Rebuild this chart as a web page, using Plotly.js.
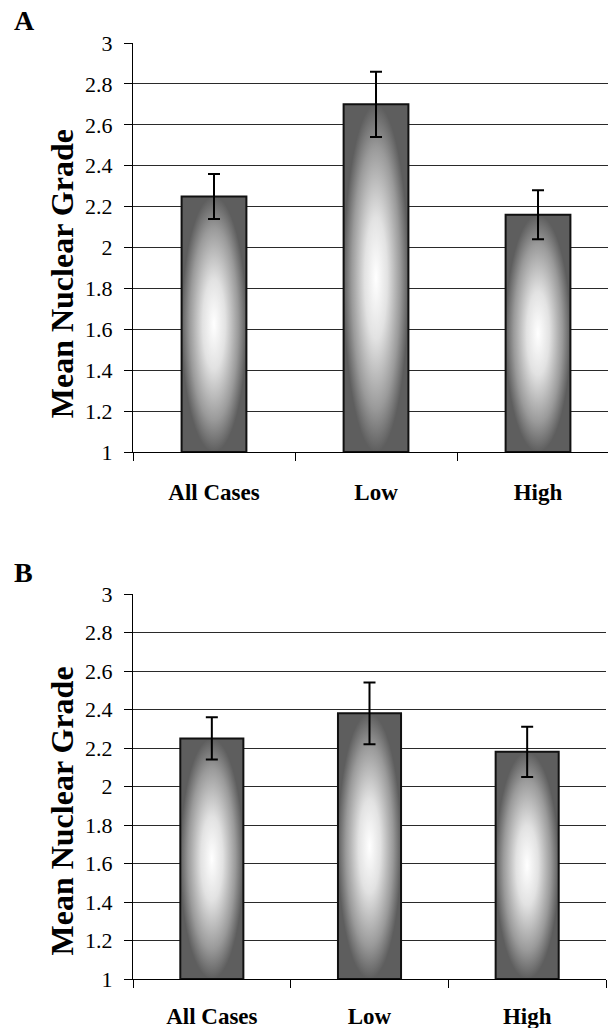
<!DOCTYPE html>
<html>
<head>
<meta charset="utf-8">
<script src="https://cdn.plot.ly/plotly-3.0.1.min.js"></script>
<style>
  html, body { margin: 0; padding: 0; background: #fff; }
  #chart { width: 608px; height: 1028px; }
</style>
</head>
<body>
<div id="chart"></div>
<script>
// ---- data ----
const categories = ['All Cases', 'Low', 'High'];
const meanA = [2.25, 2.70, 2.16];
const errA = [0.11, 0.16, 0.12];
const meanB = [2.25, 2.38, 2.18];
const errB = [0.11, 0.16, 0.13];
const yTickVals = [1, 1.2, 1.4, 1.6, 1.8, 2, 2.2, 2.4, 2.6, 2.8, 3];
const yTickLabels = ['1', '1.2', '1.4', '1.6', '1.8', '2', '2.2', '2.4', '2.6', '2.8', '3'];
const yTitle = 'Mean Nuclear Grade';
const panelLabels = ['A', 'B'];

// ---- style ----
const SERIF = '"Liberation Serif", "Times New Roman", Times, serif';
const yMin = 1, yMax = 3;
const barW = 0.4;
const gradScale = [[0, '#ffffff'], [0.35, '#e2e2e2'], [0.75, '#9a9a9a'], [1, '#5e5e5e']];
const catIdx = categories.map((c, i) => i);

function barTraces(means, errs, xa, ya) {
  const out = [];
  means.forEach((v, i) => {
    out.push({
      type: 'scatter', mode: 'lines', xaxis: xa, yaxis: ya,
      x: [i - barW / 2, i - barW / 2, i + barW / 2, i + barW / 2, i - barW / 2],
      y: [yMin, v, v, yMin, yMin],
      fill: 'toself',
      fillgradient: { type: 'radial', colorscale: gradScale },
      line: { color: '#111', width: 2 },
      hoverinfo: 'skip', showlegend: false
    });
  });
  out.push({
    type: 'scatter', mode: 'markers', xaxis: xa, yaxis: ya,
    x: catIdx, y: means,
    marker: { size: 1, color: 'rgba(0,0,0,0)' },
    error_y: { type: 'data', array: errs, visible: true, color: '#000', thickness: 2, width: 6 },
    hoverinfo: 'skip', showlegend: false
  });
  return out;
}

const data = [].concat(barTraces(meanA, errA, 'x', 'y'), barTraces(meanB, errB, 'x2', 'y2'));

function xAxis(range, domain, anchor, standoff) {
  return {
    domain: domain, range: range, anchor: anchor, fixedrange: true,
    tickmode: 'array', tickvals: catIdx, ticktext: categories,
    ticks: '', showgrid: false, zeroline: false,
    showline: true, linecolor: '#000', linewidth: 1,
    tickfont: { family: SERIF, size: 23, color: '#000', weight: 'bold' },
    ticklabelstandoff: standoff,
    minor: { tickmode: 'linear', tick0: 0.5, dtick: 1, ticks: 'outside', ticklen: 8, tickwidth: 1, tickcolor: '#000', showgrid: false }
  };
}
function yAxis(domain, anchor) {
  return {
    domain: domain, range: [yMin, yMax], anchor: anchor, fixedrange: true,
    tickmode: 'array', tickvals: yTickVals, ticktext: yTickLabels,
    ticks: 'outside', ticklen: 8, tickwidth: 1, tickcolor: '#000',
    showgrid: true, gridcolor: '#2a2a2a', gridwidth: 1,
    zeroline: false, showline: true, linecolor: '#000', linewidth: 1,
    tickfont: { family: SERIF, size: 22, color: '#000' },
    ticklabelstandoff: 7
  };
}

const layout = {
  width: 608, height: 1028,
  margin: { l: 133, r: 0, t: 43, b: 49, pad: 0 },
  paper_bgcolor: '#fff', plot_bgcolor: '#fff',
  showlegend: false,
  xaxis: xAxis([-0.5, 2.432], [0, 1], 'y', 19),
  yaxis: yAxis([0.563, 1], 'x'),
  xaxis2: xAxis([-0.5, 2.5], [0, 0.9958], 'y2', 16),
  yaxis2: yAxis([0, 0.4113], 'x2'),
  annotations: [
    { text: panelLabels[0], xref: 'paper', yref: 'paper', x: -0.255, y: 1.024, xanchor: 'left', yanchor: 'middle',
      showarrow: false, font: { family: SERIF, size: 28, color: '#000', weight: 'bold' } },
    { text: panelLabels[1], xref: 'paper', yref: 'paper', x: -0.255, y: 0.434, xanchor: 'left', yanchor: 'middle',
      showarrow: false, font: { family: SERIF, size: 28, color: '#000', weight: 'bold' } },
    { text: yTitle, xref: 'paper', yref: 'paper', x: -0.1495, y: 0.754, xanchor: 'center', yanchor: 'middle', textangle: -90,
      showarrow: false, font: { family: SERIF, size: 32, color: '#000', weight: 'bold' } },
    { text: yTitle, xref: 'paper', yref: 'paper', x: -0.1495, y: 0.180, xanchor: 'center', yanchor: 'middle', textangle: -90,
      showarrow: false, font: { family: SERIF, size: 32, color: '#000', weight: 'bold' } }
  ]
};

Plotly.newPlot('chart', data, layout, { staticPlot: true, displayModeBar: false });
</script>
</body>
</html>
